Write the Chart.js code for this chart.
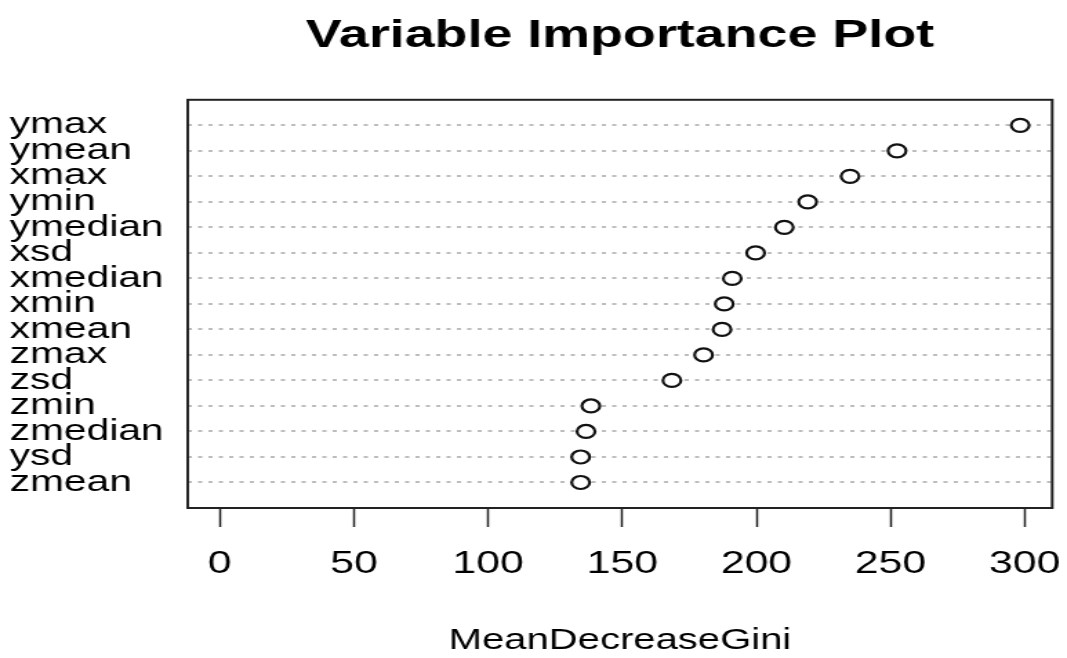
<!DOCTYPE html>
<html lang="en">
<head>
  <meta charset="UTF-8" />
  <title>Variable Importance Plot</title>
  <script src="https://cdn.jsdelivr.net/npm/chart.js"></script>
  <style>
    * { margin: 0; padding: 0; }
    html, body { width: 1067px; height: 658px; overflow: hidden; background: #fff; }
    /* the reference is an R plot that was stretched sideways, so we draw narrow and widen */
    #wrap { width: 773px; height: 658px; transform: scaleX(1.3803); transform-origin: 0 0; }
  </style>
</head>
<body>
  <div id="wrap"><canvas id="vip-chart"></canvas></div>

  <script>
    const variables = ['ymax', 'ymean', 'xmax', 'ymin', 'ymedian', 'xsd', 'xmedian', 'xmin',
                       'xmean', 'zmax', 'zsd', 'zmin', 'zmedian', 'ysd', 'zmean'];
    const meanDecreaseGini = [298.3, 252.4, 234.9, 219.1, 210.4, 199.7, 191.0, 188.0,
                              187.2, 180.3, 168.5, 138.3, 136.5, 134.5, 134.5];
    const xTicks = [0, 50, 100, 150, 200, 250, 300];

    const FONT = 'Liberation Sans, Arial, sans-serif';

    // solid frame around the plot region, like R's box()
    const plotBox = {
      id: 'plotBox',
      afterDraw(chart) {
        const { ctx, chartArea: a } = chart;
        ctx.save();
        ctx.strokeStyle = '#222';
        ctx.lineWidth = 2;
        ctx.strokeRect(a.left, a.top, a.right - a.left, a.bottom - a.top);
        ctx.restore();
      }
    };

    const points = variables.map((name, i) => ({ x: meanDecreaseGini[i], y: i + 1 }));

    // dotchart range: 0..max, widened by 4% on each side
    const maxVal = Math.max(...meanDecreaseGini);

    new Chart(document.getElementById('vip-chart').getContext('2d'), {
      type: 'scatter',
      data: {
        datasets: [{
          data: points,
          pointStyle: 'circle',
          pointRadius: 6.5,
          pointBorderWidth: 2.2,
          pointBorderColor: '#111',
          pointBackgroundColor: '#fff'
        }]
      },
      options: {
        responsive: true,
        maintainAspectRatio: false,
        animation: false,
        layout: { padding: { left: 7, right: 10.7, top: 0, bottom: 0 } },
        plugins: {
          legend: { display: false },
          tooltip: { enabled: false },
          title: {
            display: true,
            fullSize: false,
            text: 'Variable Importance Plot',
            color: '#000',
            font: { family: FONT, size: 39, weight: 'bold' },
            padding: { top: 13, bottom: 40 }
          }
        },
        scales: {
          x: {
            type: 'linear',
            min: -0.04 * maxVal,
            max: 1.04 * maxVal,
            afterBuildTicks: s => { s.ticks = xTicks.map(v => ({ value: v })); },
            // let the "300" label hang past the frame instead of shrinking the plot
            afterFit: s => { s.paddingLeft = 0; s.paddingRight = 0; },
            grid: { drawOnChartArea: false, drawTicks: true, tickLength: 19, tickColor: '#222', tickWidth: 1.5 },
            border: { display: false },
            ticks: { color: '#000', font: { family: FONT, size: 31 }, padding: 19, maxRotation: 0 },
            title: {
              display: true,
              text: 'MeanDecreaseGini',
              color: '#000',
              font: { family: FONT, size: 29 },
              padding: { top: 21, bottom: 0 }
            }
          },
          y: {
            type: 'linear',
            min: 0,
            max: 16,
            reverse: true,
            afterFit: s => { s.width = 129; },
            grid: {
              drawTicks: false,
              lineWidth: 2,
              color: c => (c.tick.value > 0 && c.tick.value < 16) ? '#bdbdbd' : 'rgba(0,0,0,0)'
            },
            border: { display: false, dash: [3, 4.5] },
            ticks: {
              stepSize: 1,
              autoSkip: false,
              crossAlign: 'far',
              padding: 0,
              color: '#000',
              font: { family: FONT, size: 29.5 },
              callback: v => variables[v - 1] || ''
            }
          }
        }
      },
      plugins: [plotBox]
    });
  </script>
</body>
</html>
